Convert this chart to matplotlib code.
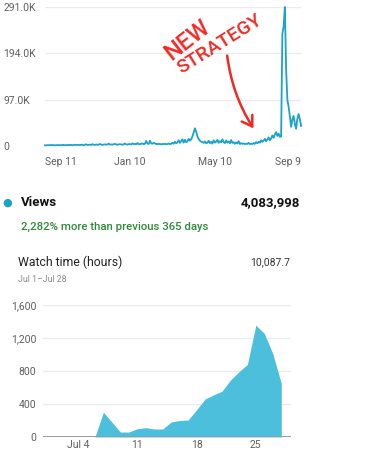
import numpy as np
import matplotlib
matplotlib.use('Agg')
import matplotlib.pyplot as plt

plt.rcParams['font.family'] = ['Roboto', 'DejaVu Sans']

# top chart: daily views (thousands), sampled every 2 days
views_k = [
    1.5, 1.2, 1.8, 1.4, 2.0, 1.6, 2.2, 1.5, 1.3, 1.9, 1.6, 2.1, 1.4, 1.7, 2.3, 1.8, 1.5, 2.0, 1.7, 2.4,
    1.9, 2.2, 1.6, 2.0, 2.6, 1.8, 2.3, 2.1, 1.9, 2.8, 2.2, 1.7, 2.5, 3.6, 2.0, 2.4, 2.9, 2.2, 3.8, 2.6,
    2.3, 3.1, 2.5, 2.8, 4.2, 2.7, 2.4, 3.0, 3.5, 2.6, 3.3, 4.8, 2.9, 3.2, 2.8, 3.6, 4.5, 3.0, 2.7, 3.4,
    3.9, 3.1, 2.8, 3.5, 5.2, 3.3, 3.0, 3.8,
    4.0, 3.2, 5.5, 3.8, 4.4, 3.5, 6.0, 4.1, 3.6, 4.8, 5.2, 3.9, 4.5, 10.5, 5.0, 4.2, 11.0, 5.5, 4.6, 7.0,
    5.0, 4.2, 3.8, 4.5, 3.9, 3.5, 4.2, 3.8, 4.6, 3.6, 4.0, 5.2, 3.9, 4.6, 6.5, 4.8, 9.0, 5.5, 7.5, 12.0,
    6.5, 10.0, 14.0, 7.0, 13.0, 8.0, 9.5, 15.0, 11.0, 14.0, 20.0,
    28.0, 37.0, 30.0, 20.0, 15.0, 11.0, 9.0,
    8.0, 6.5, 9.5, 5.5, 7.0, 11.0, 6.0, 8.5, 5.0, 12.0, 7.0, 9.0, 13.0, 6.5, 10.0, 7.5, 14.0, 8.0, 6.0, 11.5,
    7.0, 9.5, 5.5, 12.5, 6.5, 8.0, 4.5, 7.5, 5.0, 10.0, 4.0, 6.0, 4.5, 5.5, 3.8, 5.0, 4.2, 6.5, 3.9, 4.8,
    4.0, 6.0, 4.5, 8.0, 5.5, 9.0, 7.0, 12.0, 8.5, 11.0, 15.0, 10.0, 13.5, 18.0, 12.0, 16.0, 22.0, 17.0, 24.0, 29.0,
    21.0, 26.0, 19.0,
    20.0, 235.0, 250.0, 291.0, 160.0, 97.0, 82.0, 62.0, 40.0, 55.0, 63.0, 46.0, 36.0, 57.0, 67.0, 56.0, 42.0,
]
view_ticks = [0, 97.0, 194.0, 291.0]
view_tick_labels = ['0', '97.0K', '194.0K', '291.0K']
date_tick_days = [26, 136, 272, 389]
date_tick_labels = ['Sep 11', 'Jan 10', 'May 10', 'Sep 9']

# bottom chart: watch time (hours) Jul 1 - Jul 28
july_days = list(range(1, 29))
watch_hours = [0, 0, 0, 0, 0, 0, 300, 180, 60, 60, 100, 113, 97, 97, 182, 200, 205,
               330, 460, 510, 555, 690, 790, 880, 1355, 1255, 1010, 650]
watch_ticks = [0, 400, 800, 1200, 1600]
watch_tick_labels = ['0', '400', '800', '1,200', '1,600']
july_tick_days = [4, 11, 18, 25]
july_tick_labels = ['Jul 4', '11', '18', '25']

line_col = '#1ba3c8'
fill_col = '#4cbfdc'
grid_col = '#ebebeb'
tick_col = '#5f5f5f'

fig = plt.figure(figsize=(3.8, 4.5), dpi=100)

# ---- top chart
ax1 = fig.add_axes([0.1184, 0.6756, 0.674, 0.3089])
days = np.arange(len(views_k)) * 2
ax1.plot(days, views_k, color=line_col, lw=1.3, clip_on=False, zorder=3)
ax1.set_xlim(0, days[-1])
ax1.set_ylim(0, 291.0)
ax1.set_yticks(view_ticks)
ax1.set_yticklabels(view_tick_labels, ha='left')
ax1.set_xticks(date_tick_days)
ax1.set_xticklabels(date_tick_labels)
for y in view_ticks:
    ax1.axhline(y, color=grid_col, lw=1, zorder=1)
for s in ax1.spines.values():
    s.set_visible(False)
ax1.tick_params(length=0, colors=tick_col, labelsize=7.5)
ax1.tick_params(axis='x', pad=8)
ax1.tick_params(axis='y', pad=30)

# hand drawn note
red = '#ee2a24'
ax1.text(0.555, 0.76, 'NEW', transform=ax1.transAxes, color=red, fontsize=17,
         rotation=38, ha='center', va='center', fontweight='medium')
ax1.text(0.68, 0.73, 'STRATEGY', transform=ax1.transAxes, color=red, fontsize=14,
         rotation=32, ha='center', va='center', fontweight='medium')
ax1.annotate('', xy=(0.82, 0.11), xytext=(0.71, 0.67), xycoords='axes fraction',
             arrowprops=dict(arrowstyle='->,head_length=0.7,head_width=0.45', color=red,
                             lw=1.8, connectionstyle='arc3,rad=0.12'))

# ---- text block
fig.text(7 / 380, 1 - 203 / 450, '\u25cf', color=line_col, fontsize=8, ha='center', va='center')
fig.text(21 / 380, 1 - 203 / 450, 'Views', color='#111111', fontsize=9.5,
         fontweight='bold', va='center')
fig.text(300 / 380, 1 - 203 / 450, '4,083,998', color='#111111', fontsize=9.5,
         fontweight='bold', va='center', ha='right')
fig.text(21 / 380, 1 - 227 / 450, '2,282% more than previous 365 days', color='#2f8a37',
         fontsize=8.2, fontweight='medium', va='center')
fig.text(18 / 380, 1 - 262 / 450, 'Watch time (hours)', color='#222222', fontsize=8.8,
         va='center')
fig.text(290 / 380, 1 - 262 / 450, '10,087.7', color='#333333', fontsize=7.5,
         va='center', ha='right')
fig.text(18 / 380, 1 - 280 / 450, 'Jul 1\u2013Jul 28', color='#8a8a8a', fontsize=6.3,
         va='center')

# ---- bottom chart
ax2 = fig.add_axes([0.1132, 0.0289, 0.6526, 0.2933])
ax2.fill_between(july_days, watch_hours, 0, color=fill_col, lw=0, zorder=2)
ax2.set_xlim(-0.13, 29.15)
ax2.set_ylim(0, 1600)
ax2.set_yticks(watch_ticks)
ax2.set_yticklabels(watch_tick_labels)
ax2.set_xticks(july_tick_days)
ax2.set_xticklabels(july_tick_labels)
for y in watch_ticks[1:]:
    ax2.axhline(y, color=grid_col, lw=1, zorder=1)
ax2.axhline(0, color='#9a9a9a', lw=1.4, zorder=3)
for s in ax2.spines.values():
    s.set_visible(False)
ax2.tick_params(length=0, colors=tick_col, labelsize=7.5, pad=2)
ax2.tick_params(axis='y', pad=5)

fig.savefig('out.png', dpi=100)
